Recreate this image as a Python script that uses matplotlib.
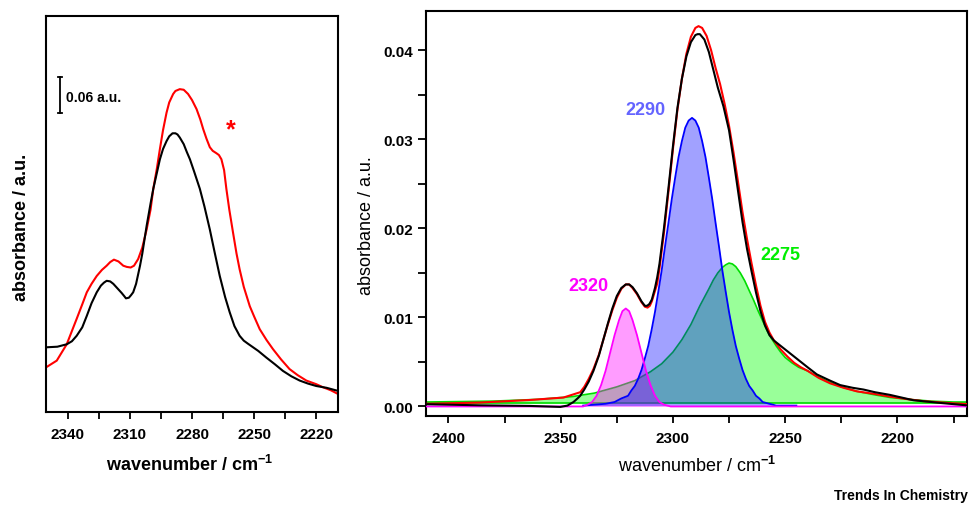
import numpy as np
import matplotlib
matplotlib.use("Agg")
import matplotlib.pyplot as plt
from matplotlib.ticker import MultipleLocator, FormatStrFormatter

plt.rcParams['font.family'] = ['Liberation Sans', 'DejaVu Sans']
plt.rcParams['font.weight'] = 'bold'
plt.rcParams['mathtext.fontset'] = 'custom'
plt.rcParams['mathtext.rm'] = 'Liberation Sans'
plt.rcParams['mathtext.bf'] = 'Liberation Sans:bold'
plt.rcParams['mathtext.default'] = 'bf'

# ---- left panel: two spectra (arbitrary offset units) ----
wn_left_black = [2350.4, 2345.0, 2340.5, 2338.0, 2335.7, 2333.0, 2330.8, 2328.5, 2326.0,
                 2324.0, 2322.5, 2321.2, 2319.5, 2318.0, 2316.4, 2314.0, 2312.8, 2311.9,
                 2310.5, 2309.5, 2308.4, 2307.0, 2305.1, 2304.0, 2301.9, 2300.0, 2298.7,
                 2297.0, 2295.5, 2294.0, 2292.3, 2291.0, 2289.4, 2288.0, 2287.0, 2285.9,
                 2284.0, 2282.5, 2281.0, 2279.0, 2276.2, 2274.0, 2271.4, 2269.0, 2266.6,
                 2264.0, 2261.8, 2259.5, 2257.0, 2255.0, 2253.0, 2250.5, 2248.0, 2244.1,
                 2240.0, 2236.1, 2232.0, 2228.0, 2224.0, 2220.0, 2215.0, 2209.6]
abs_left_black = [0.107, 0.108, 0.112, 0.117, 0.126, 0.140, 0.159, 0.180, 0.198,
                  0.209, 0.214, 0.217, 0.216, 0.212, 0.206, 0.197, 0.192, 0.188,
                  0.189, 0.193, 0.198, 0.212, 0.242, 0.262, 0.308, 0.345, 0.369,
                  0.395, 0.418, 0.435, 0.448, 0.456, 0.461, 0.461, 0.459, 0.454,
                  0.443, 0.430, 0.418, 0.398, 0.369, 0.340, 0.302, 0.263, 0.225,
                  0.190, 0.165, 0.142, 0.126, 0.118, 0.113, 0.107, 0.101, 0.090,
                  0.079, 0.068, 0.059, 0.052, 0.047, 0.043, 0.040, 0.035]

wn_left_red = [2350.4, 2345.3, 2340.5, 2335.7, 2333.0, 2330.8, 2328.5, 2326.0, 2323.5,
               2321.2, 2319.5, 2317.7, 2315.5, 2313.2, 2311.5, 2309.6, 2308.0, 2306.0,
               2304.0, 2301.9, 2300.0, 2298.7, 2297.0, 2295.5, 2294.0, 2292.3, 2291.0,
               2289.1, 2288.0, 2285.9, 2284.0, 2281.9, 2280.0, 2277.8, 2276.0, 2274.6,
               2273.0, 2271.4, 2270.0, 2268.2, 2267.0, 2265.8, 2264.5, 2263.4, 2262.0,
               2260.2, 2258.5, 2257.0, 2255.0, 2252.1, 2250.0, 2247.3, 2244.0, 2240.9,
               2237.0, 2232.9, 2229.0, 2224.8, 2220.0, 2216.8, 2213.0, 2209.6]
abs_left_red = [0.074, 0.085, 0.112, 0.154, 0.178, 0.198, 0.212, 0.225, 0.235,
                0.242, 0.248, 0.252, 0.249, 0.242, 0.240, 0.239, 0.242, 0.253,
                0.272, 0.302, 0.335, 0.369, 0.402, 0.435, 0.466, 0.495, 0.512,
                0.526, 0.531, 0.534, 0.533, 0.526, 0.516, 0.501, 0.484, 0.468,
                0.452, 0.438, 0.432, 0.428, 0.425, 0.418, 0.400, 0.369, 0.335,
                0.297, 0.262, 0.236, 0.207, 0.175, 0.158, 0.137, 0.119, 0.104,
                0.087, 0.071, 0.061, 0.052, 0.046, 0.041, 0.036, 0.030]

# ---- right panel: measured spectrum, fit envelope and fit components ----
wn_meas = [2409.6, 2385.9, 2363.6, 2350.2, 2347.0, 2344.3, 2342.5, 2341.3, 2339.5,
           2337.5, 2335.4, 2333.0, 2331.0, 2329.0, 2327.0, 2325.0, 2323.0, 2321.0,
           2319.5, 2318.0, 2316.0, 2314.0, 2312.5, 2311.5, 2310.5, 2309.4, 2308.0,
           2307.0, 2306.0, 2304.0, 2302.0, 2300.0, 2298.0, 2296.0, 2294.0, 2292.0,
           2290.0, 2289.0, 2288.0, 2286.0, 2284.0, 2282.0, 2280.0, 2277.5, 2275.0,
           2273.0, 2271.0, 2269.0, 2267.0, 2265.0, 2263.0, 2261.0, 2259.0, 2257.0,
           2255.0, 2253.0, 2251.0, 2248.0, 2245.0, 2240.0, 2235.9, 2230.0, 2225.5,
           2220.0, 2215.1, 2210.0, 2203.3, 2192.9, 2181.0, 2168.0]
abs_meas = [0.00025, 0.00013, 0.00006, -0.00005, 0.0001, 0.0005, 0.0009, 0.0012, 0.0019,
            0.0028, 0.0040, 0.0057, 0.0075, 0.0093, 0.0110, 0.0124, 0.0133, 0.0137,
            0.0137, 0.0134, 0.0127, 0.0118, 0.0113, 0.0113, 0.0115, 0.0120, 0.0133,
            0.0145, 0.0160, 0.0200, 0.0245, 0.0292, 0.0335, 0.0368, 0.0393, 0.0409,
            0.0417, 0.0418, 0.0418, 0.0412, 0.0398, 0.0378, 0.0358, 0.0337, 0.0310,
            0.0277, 0.0242, 0.0207, 0.0177, 0.0152, 0.0128, 0.0107, 0.0091, 0.0080,
            0.0074, 0.0070, 0.0066, 0.0060, 0.0054, 0.0044, 0.0036, 0.0029, 0.0024,
            0.0021, 0.0019, 0.0016, 0.0013, 0.0007, 0.0004, 0.0001]

wn_fit = [2409.6, 2385.9, 2363.6, 2348.8, 2341.3, 2339.5, 2337.5, 2335.4, 2333.0,
          2331.0, 2329.0, 2327.0, 2325.0, 2323.0, 2321.0, 2319.5, 2318.0, 2316.0,
          2314.0, 2312.5, 2311.3, 2310.3, 2309.4, 2307.0, 2306.0, 2304.0, 2302.0,
          2300.0, 2298.0, 2296.0, 2294.0, 2292.0, 2290.0, 2288.6, 2287.0, 2285.0,
          2283.0, 2281.0, 2279.0, 2277.0, 2275.0, 2273.0, 2271.0, 2269.0, 2267.0,
          2265.0, 2263.0, 2261.0, 2259.0, 2257.0, 2255.0, 2252.0, 2249.0, 2246.0,
          2243.0, 2240.0, 2235.0, 2230.0, 2224.0, 2218.1, 2210.0, 2203.3, 2195.0,
          2188.4, 2178.0, 2168.0]
abs_fit = [0.0003, 0.00044, 0.00073, 0.0010, 0.0016, 0.0022, 0.0031, 0.0042, 0.0058,
           0.0075, 0.0092, 0.0108, 0.0122, 0.0132, 0.0137, 0.0137, 0.0133, 0.0126,
           0.0117, 0.0112, 0.0111, 0.0113, 0.0118, 0.0138, 0.0155, 0.0195, 0.0241,
           0.0289, 0.0333, 0.0368, 0.0396, 0.0415, 0.0425, 0.0427, 0.0425, 0.0416,
           0.0400, 0.0380, 0.0362, 0.0340, 0.0315, 0.0285, 0.0252, 0.0218, 0.0188,
           0.0161, 0.0136, 0.0113, 0.0095, 0.0083, 0.0074, 0.0064, 0.0056, 0.0049,
           0.0044, 0.0040, 0.0032, 0.0026, 0.0021, 0.0017, 0.0014, 0.0011, 0.0008,
           0.0006, 0.0004, 0.00025]

# band at 2320
wn_2320 = [2410, 2340, 2338, 2336, 2334, 2332, 2330, 2328, 2326, 2324, 2322.5, 2321,
           2319.5, 2318, 2316, 2314, 2312, 2310, 2308, 2306, 2304, 2301, 2169]
abs_2320 = [0.0, 0.0, 0.0002, 0.0005, 0.0012, 0.0024, 0.0040, 0.0060, 0.0080, 0.0097,
            0.0107, 0.0110, 0.0107, 0.0097, 0.0080, 0.0060, 0.0040, 0.0024, 0.0012,
            0.0005, 0.0002, 0.0, 0.0]
base_2320 = 0.0

# band at 2290
wn_2290 = [2340, 2330, 2326, 2323, 2320, 2318.5, 2317, 2315.5, 2314, 2312.5, 2311,
           2309.5, 2308, 2306.5, 2305, 2303.5, 2302, 2300.5, 2299, 2297.5, 2296,
           2294.5, 2293, 2291.5, 2290, 2288.5, 2287, 2285.5, 2284, 2282.5, 2281,
           2279.5, 2278, 2276.5, 2275, 2273.5, 2272, 2270.5, 2269, 2267.5, 2266,
           2264.5, 2263, 2261.5, 2260, 2257, 2254, 2250, 2245]
abs_2290 = [0.0001, 0.0003, 0.0005, 0.0009, 0.0012, 0.0018, 0.0023, 0.0031, 0.0041,
            0.0054, 0.0068, 0.0086, 0.0106, 0.0129, 0.0153, 0.0180, 0.0206, 0.0233,
            0.0257, 0.0280, 0.0298, 0.0313, 0.0321, 0.0324, 0.0321, 0.0313, 0.0298,
            0.0280, 0.0257, 0.0233, 0.0206, 0.0180, 0.0153, 0.0129, 0.0106, 0.0086,
            0.0068, 0.0054, 0.0041, 0.0031, 0.0023, 0.0018, 0.0012, 0.0009, 0.0005,
            0.0003, 0.0001, 0.0001, 0.0001]
base_2290 = 0.0001

# band at 2275
wn_2275 = [2410, 2380, 2360, 2345, 2335, 2325, 2317, 2310, 2305, 2300, 2296, 2292,
           2288, 2284, 2282, 2280, 2278, 2276.5, 2275, 2273.5, 2272, 2270, 2268,
           2266, 2264, 2262, 2260, 2258, 2256, 2254, 2252, 2250, 2247, 2244, 2240,
           2235, 2230, 2225, 2218, 2210, 2203, 2195, 2185, 2175, 2169]
abs_2275 = [0.0005, 0.0006, 0.0008, 0.0011, 0.0015, 0.0022, 0.0029, 0.0039, 0.0048,
            0.0061, 0.0075, 0.0092, 0.0113, 0.0132, 0.0142, 0.0150, 0.0156, 0.0159,
            0.0161, 0.0160, 0.0157, 0.0150, 0.0141, 0.0130, 0.0119, 0.0107, 0.0096,
            0.0085, 0.0076, 0.0068, 0.0061, 0.0055, 0.0049, 0.0044, 0.0040, 0.0033,
            0.0027, 0.0022, 0.0017, 0.0013, 0.0010, 0.0008, 0.0006, 0.0005, 0.0005]
base_2275 = 0.0004

band_labels = ['2320', '2290', '2275']
band_label_pos = [(2337.8, 0.0136), (2312.4, 0.0333), (2252.0, 0.0171)]
band_label_colors = ['#ff00ff', '#6464ff', '#00ee00']

fig = plt.figure(figsize=(9.7, 5.06), dpi=100)
W, H = 970, 506


def px_axes(x0, y0, x1, y1):
    return fig.add_axes([x0 / W, 1 - y1 / H, (x1 - x0) / W, (y1 - y0) / H])


# ---------------- left panel ----------------
ax1 = px_axes(46, 17, 338, 413)
ax1.plot(wn_left_black, abs_left_black, color='black', lw=1.5, zorder=3)
ax1.plot(wn_left_red, abs_left_red, color='red', lw=1.5, zorder=2)
ax1.set_xlim(2350.5, 2209.5)
ax1.set_ylim(0, 0.655)
ax1.xaxis.set_major_locator(MultipleLocator(30))
ax1.xaxis.set_minor_locator(MultipleLocator(15))
ax1.set_yticks([])
ax1.tick_params(axis='x', which='both', direction='out', length=5, width=1.3,
                labelsize=11, pad=6)

# scale bar
ax1.plot([2343.6, 2343.6], [0.494, 0.554], color='black', lw=1.3)
ax1.plot([2342.6, 2344.6], [0.494, 0.494], color='black', lw=1.3)
ax1.plot([2342.6, 2344.6], [0.554, 0.554], color='black', lw=1.3)
ax1.text(2341.0, 0.521, '0.06 a.u.', fontsize=10, ha='left', va='center')
ax1.text(2261.3, 0.468, '*', color='red', fontsize=18, ha='center', va='center')

# ---------------- right panel ----------------
ax2 = px_axes(426, 12, 967, 417)

ax2.fill_between(wn_2275, abs_2275, base_2275, color=(0, 1, 0), alpha=0.4, lw=0, zorder=1)
ax2.plot(wn_2275, abs_2275, color='#00dd00', lw=1.2, zorder=1.5)
ax2.axhline(base_2275, color='#00dd00', lw=1.2, zorder=1.5)
ax2.fill_between(wn_2320, abs_2320, base_2320, color=(1, 0, 1), alpha=0.39, lw=0, zorder=2)
ax2.fill_between(wn_2290, abs_2290, base_2290, color=(0, 0, 1), alpha=0.37, lw=0, zorder=2.1)
ax2.plot(wn_2290, abs_2290, color='#0000ff', lw=1.3, zorder=3)
ax2.plot(wn_2320, abs_2320, color='#ff00ff', lw=1.3, zorder=3.1)

ax2.plot(wn_fit, abs_fit, color='red', lw=1.5, zorder=4)
ax2.plot(wn_meas, abs_meas, color='black', lw=1.5, zorder=5)

for txt, (x, y), c in zip(band_labels, band_label_pos, band_label_colors):
    ax2.text(x, y, txt, color=c, fontsize=13, ha='center', va='center')

ax2.set_xlim(2410, 2169)
ax2.set_ylim(-0.00107, 0.0444)
ax2.xaxis.set_major_locator(MultipleLocator(50))
ax2.xaxis.set_minor_locator(MultipleLocator(25))
ax2.yaxis.set_major_locator(MultipleLocator(0.01))
ax2.yaxis.set_minor_locator(MultipleLocator(0.005))
ax2.yaxis.set_major_formatter(FormatStrFormatter('%.2f'))
ax2.tick_params(axis='x', which='both', direction='out', length=5, width=1.3,
                labelsize=11, pad=6)
ax2.tick_params(axis='y', which='both', direction='out', length=6, width=1.3,
                labelsize=11, pad=3)

for ax in (ax1, ax2):
    for sp in ax.spines.values():
        sp.set_linewidth(1.5)
    for lab in ax.get_xticklabels() + ax.get_yticklabels():
        lab.set_fontweight('bold')

# axis titles
fig.text(190 / W, 1 - 465 / H, r'wavenumber / cm$^{-1}$', fontsize=13,
         ha='center', va='center')
fig.text(22 / W, 1 - 227 / H, 'absorbance / a.u.', fontsize=13, rotation=90,
         ha='center', va='center')
fig.text(697 / W, 1 - 466 / H, r'wavenumber / cm$^{-1}$', fontsize=13,
         ha='center', va='center', fontweight='normal')
fig.text(367 / W, 1 - 226 / H, 'absorbance / a.u.', fontsize=13, rotation=90,
         ha='center', va='center', fontweight='normal')

fig.text(968 / W, 1 - 496 / H, 'Trends In Chemistry', fontsize=10, ha='right',
         va='center', fontweight='bold')

fig.savefig('out.png', dpi=100)
